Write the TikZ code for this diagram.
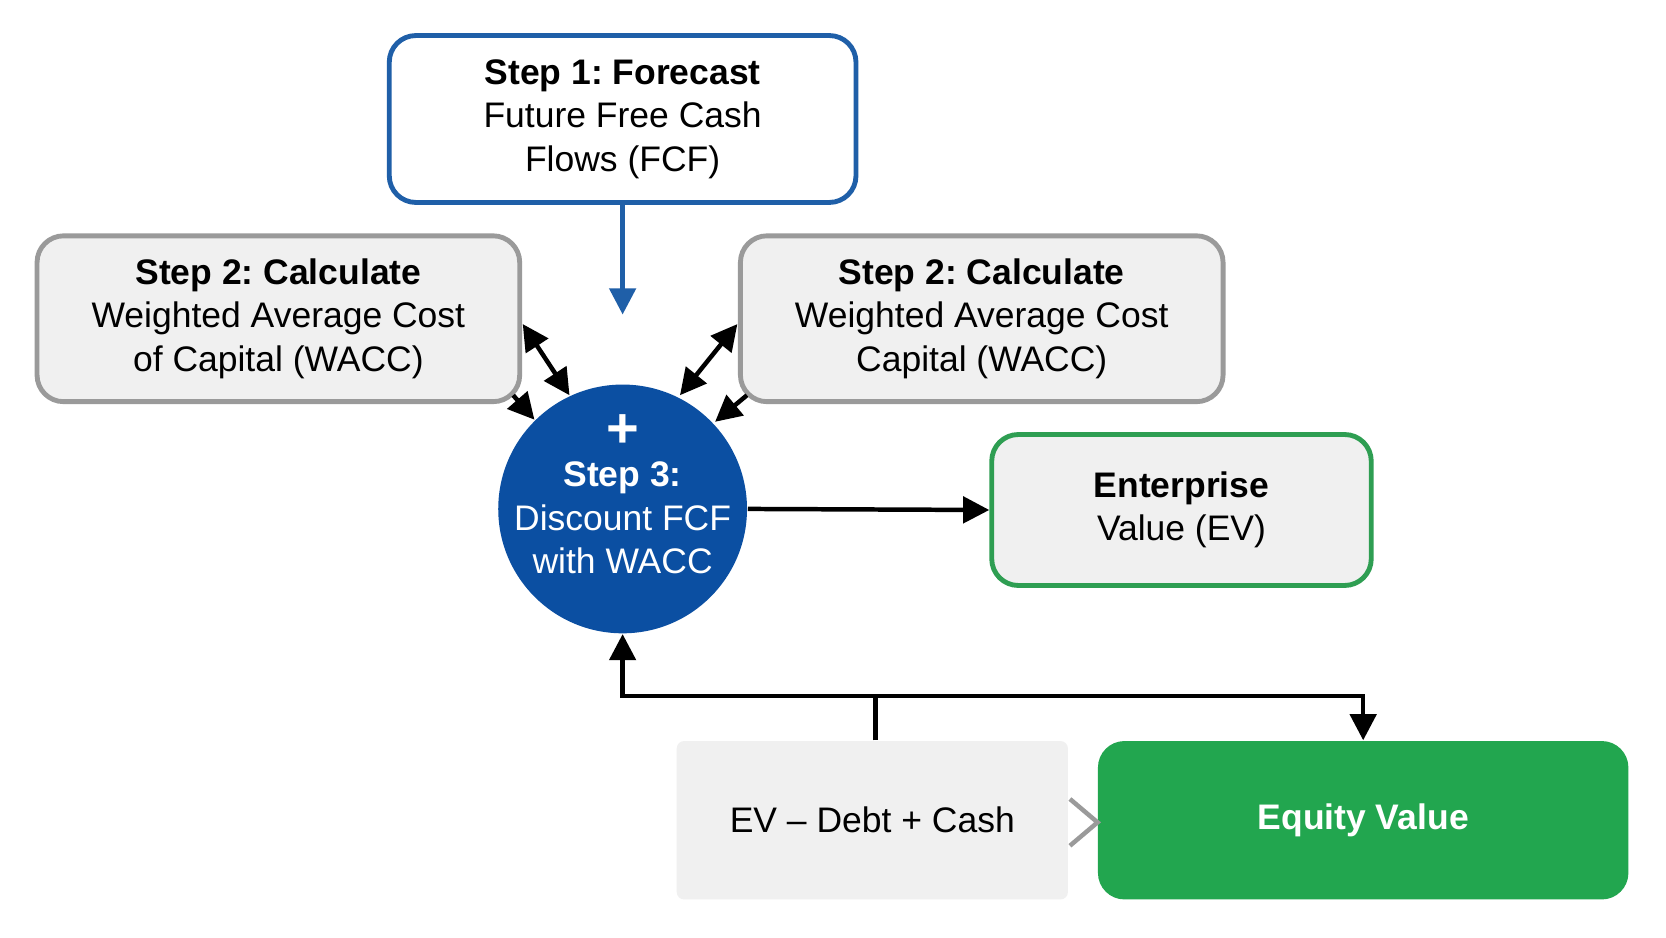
\documentclass[tikz,border=0pt]{standalone}
\usepackage{fontspec}
\setmainfont{Liberation Sans}
\usetikzlibrary{arrows.meta}
\definecolor{sblue}{HTML}{1F5FA8}
\definecolor{cblue}{HTML}{0B4FA2}
\definecolor{gbord}{HTML}{9A9A9A}
\definecolor{gfill}{HTML}{F0F0F0}
\definecolor{gborder}{HTML}{2E9E52}
\definecolor{gfull}{HTML}{22A64F}
\begin{document}
\frenchspacing
\begin{tikzpicture}[x=0.01cm,y=-0.01cm,
  txt/.style={font=\fontsize{9.5}{11.6}\selectfont,align=center},
  box/.style={txt,rounded corners=0.25cm,line width=1.3pt,inner sep=0pt},
  arr/.style={line width=1.2pt,-{Triangle[length=7pt,width=7pt]}},
  darr/.style={line width=1.2pt,{Triangle[length=7pt,width=7pt]}-{Triangle[length=7pt,width=7pt]}}]
\useasboundingbox[fill=white] (0,0) rectangle (1568,882);
\node[box,draw=sblue,fill=white,minimum width=4.39cm,minimum height=1.57cm] (s1) at (586,112)
  {\textbf{Step 1: Forecast}\\Future Free Cash\\Flows (FCF)};
\node[box,draw=gbord,fill=gfill,minimum width=4.54cm,minimum height=1.56cm] (s2l) at (262,300)
  {\textbf{Step 2: Calculate}\\Weighted Average Cost\\of Capital (WACC)};
\node[box,draw=gbord,fill=gfill,minimum width=4.54cm,minimum height=1.56cm] (s2r) at (924,300)
  {\textbf{Step 2: Calculate}\\Weighted Average Cost\\Capital (WACC)};
\node[circle,fill=cblue,minimum size=2.34cm,inner sep=0pt] (c) at (586,479) {};
\node[txt,text=white] (ct) at (586,465)
  {{\fontsize{15}{13}\selectfont\textbf{+}}\\[-1pt]\textbf{Step 3:}\\Discount FCF\\with WACC};
\node[box,draw=gborder,fill=gfill,minimum width=3.57cm,minimum height=1.42cm] (ev) at (1112,480)
  {\textbf{Enterprise}\\Value (EV)};
\node[txt,fill=gfill,minimum width=3.68cm,minimum height=1.49cm,rounded corners=2pt] (calc) at (821,772)
  {EV – Debt + Cash};
\node[txt,fill=gfull,text=white,minimum width=4.99cm,minimum height=1.49cm,rounded corners=0.25cm] (eq) at (1283,772)
  {\textbf{Equity Value}};
\draw[gbord,line width=1.2pt] (1007,752) -- (1033,774) -- (1007,796);
\coordinate (s1e) at (586,296);
\draw[arr,sblue] (s1.south) -- (s1e);
\coordinate (la) at (492,305); \coordinate (lb) at (536,372);
\coordinate (lc) at (483,372); \coordinate (ld) at (503,395);
\coordinate (ra) at (694,305); \coordinate (rb) at (640,372);
\coordinate (rc) at (703,372); \coordinate (rd) at (673,397);
\draw[darr] (la) -- (lb);
\draw[arr] (lc) -- (ld);
\draw[darr] (ra) -- (rb);
\draw[arr] (rc) -- (rd);
\draw[arr] (c.east) -- (ev.west);
\coordinate (j) at (824,655);
\draw[line width=1.2pt] (calc.north -| j) -- (j);
\draw[arr] (j) -- (586,655) -- (c.south);
\draw[arr] (j) -| (eq.north);
\end{tikzpicture}
\end{document}
